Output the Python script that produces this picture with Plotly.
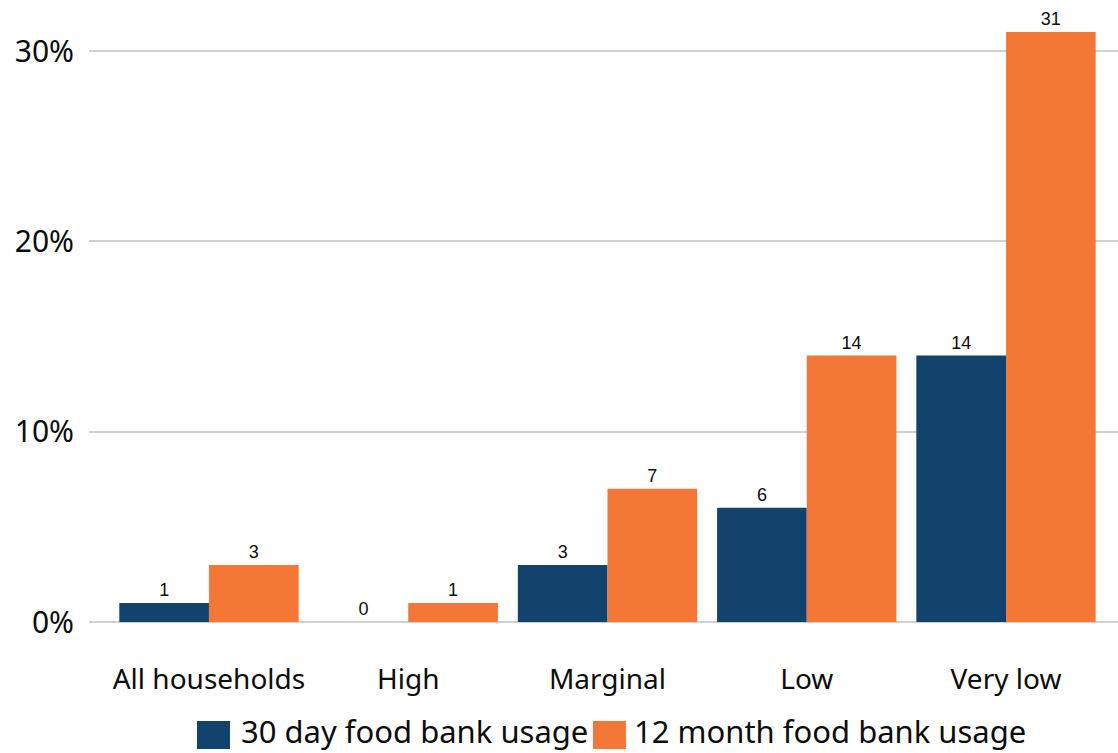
import plotly.graph_objects as go

categories = ["All households", "High", "Marginal", "Low", "Very low"]
series_names = ["30 day food bank usage", "12 month food bank usage"]
usage_30_day = [1, 0, 3, 6, 14]
usage_12_month = [3, 1, 7, 14, 31]
y_tick_values = [0, 10, 20, 30]
y_tick_labels = ["0%", "10%", "20%", "30%"]

colors = ["#12436D", "#F47738"]
FONT = "Noto Sans"

W, H = 1118, 753
ML, MR, MT, MB = 89, 0, 0, 131
PW, PH = W - ML - MR, H - MT - MB

fig = go.Figure()
for name, vals, col in zip(series_names, [usage_30_day, usage_12_month], colors):
    fig.add_trace(go.Bar(
        name=name, x=categories, y=vals,
        marker=dict(color=col, line=dict(width=0)),
        text=[str(v) for v in vals], textposition="outside",
        textfont=dict(family="Liberation Sans", size=18, color="#0b0c0c"),
        cliponaxis=False, showlegend=False,
    ))

def px_x(p):
    return (p - ML) / PW

def px_y(p):
    return (H - MB - p) / PH

# manual legend (large square swatches)
legend_items = [(197, 230, 239), (593, 626, 632)]
for (x0, x1, tx), name, col in zip(legend_items, series_names, colors):
    fig.add_shape(type="rect", xref="paper", yref="paper",
                  x0=px_x(x0), x1=px_x(x1), y0=px_y(749), y1=px_y(721),
                  fillcolor=col, line=dict(width=0))
    fig.add_annotation(xref="paper", yref="paper", x=px_x(tx), y=px_y(731),
                       text=name, showarrow=False, xanchor="left", yanchor="middle",
                       font=dict(family=FONT, size=31, color="#0b0c0c"))

fig.update_layout(
    width=W, height=H,
    margin=dict(l=ML, r=MR, t=MT, b=MB, pad=0),
    plot_bgcolor="white", paper_bgcolor="white",
    barmode="group", bargap=0.1, bargroupgap=0,
    font=dict(family=FONT, color="#0b0c0c"),
    xaxis=dict(range=[-0.602, 4.562], showgrid=False, showline=False,
               zeroline=False, ticks="", ticklabelstandoff=38,
               tickfont=dict(family=FONT, size=28, color="#0b0c0c")),
    yaxis=dict(range=[0, 32.68], tickvals=y_tick_values, ticktext=y_tick_labels,
               showgrid=True, gridcolor="#d0d0d0", gridwidth=2,
               zeroline=True, zerolinecolor="#d0d0d0", zerolinewidth=2,
               showline=False, ticks="", ticklabelstandoff=14,
               tickfont=dict(family=FONT, size=30, color="#0b0c0c")),
)

fig.write_html("out.html", config={"displayModeBar": False},
               post_script="document.body.style.margin='0';document.body.style.overflow='hidden';")
